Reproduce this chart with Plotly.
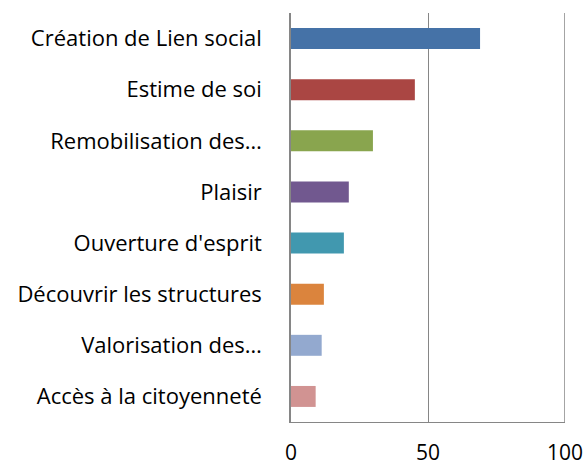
import plotly.graph_objects as go

categories = [
    "Création de Lien social",
    "Estime de soi",
    "Remobilisation des…",
    "Plaisir",
    "Ouverture d'esprit",
    "Découvrir les structures",
    "Valorisation des…",
    "Accès à la citoyenneté",
]
values = [69, 45.2, 29.9, 21.1, 19.3, 12.0, 11.2, 9.0]
colors = ["#4572A7", "#AA4643", "#89A54E", "#71588F",
          "#4198AF", "#DB843D", "#93A9CF", "#D19392"]
x_ticks = [0, 50, 100]

fig = go.Figure(go.Bar(
    x=values, y=categories, orientation="h",
    marker=dict(color=colors, line=dict(width=0)),
    hoverinfo="skip",
))

font_family = "'Open Sans', sans-serif"
fig.update_layout(
    width=587, height=465,
    margin=dict(l=291, r=22, t=13, b=43),
    paper_bgcolor="white", plot_bgcolor="white",
    bargap=0.59,
    showlegend=False,
    font=dict(family=font_family, size=21, color="#000000"),
    xaxis=dict(
        range=[0, 100], tickvals=x_ticks, ticktext=[str(v) for v in x_ticks],
        showgrid=True, gridcolor="#868686", gridwidth=1,
        showline=True, linecolor="#868686", linewidth=1,
        zeroline=False, ticks="", ticklabelstandoff=12,
        tickfont=dict(size=21), automargin=False,
    ),
    yaxis=dict(
        autorange="reversed", showgrid=False,
        showline=True, linecolor="#868686", linewidth=1.5,
        ticks="", ticklabelstandoff=23,
        tickfont=dict(size=22), automargin=False,
    ),
    shapes=[dict(type="line", xref="x", yref="paper",
                 x0=x_ticks[-1], x1=x_ticks[-1], y0=0, y1=1,
                 line=dict(color="#868686", width=1.5))],
)

fig.write_html(
    "out.html",
    config={"displayModeBar": False},
    post_script="document.body.style.margin='0';document.body.style.overflow='hidden';",
)
